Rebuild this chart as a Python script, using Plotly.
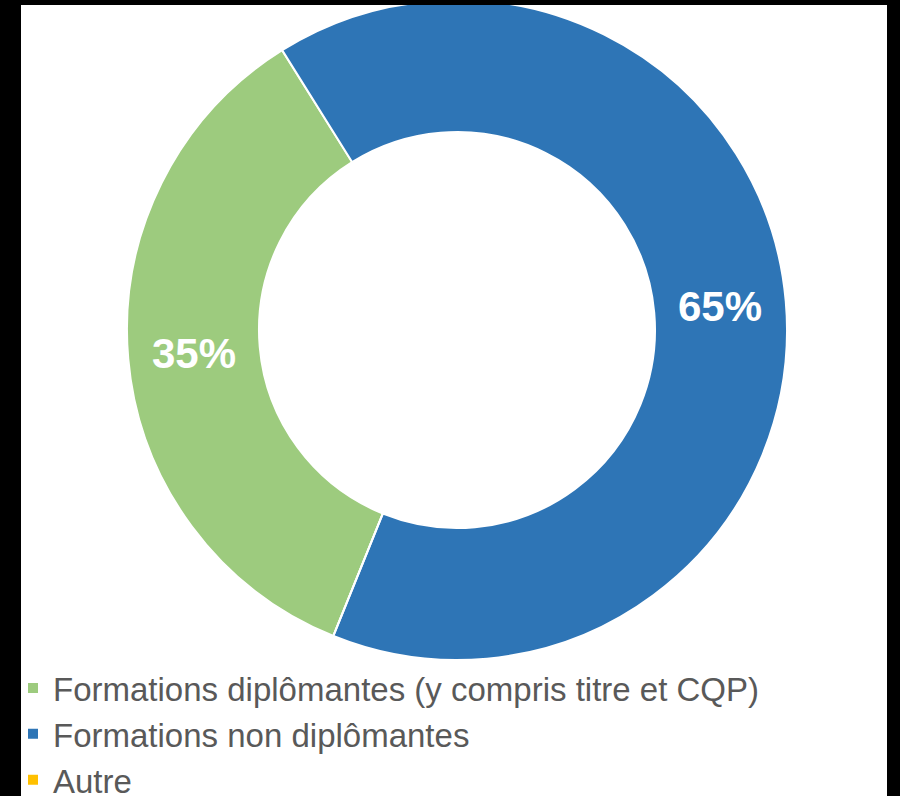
import plotly.graph_objects as go

labels = ["Formations diplômantes (y compris titre et CQP)", "Formations non diplômantes", "Autre"]
values = [35, 65, 0]
colors = ["#9DCB7E", "#2E75B6", "#FFC000"]

W, H = 900, 796

fig = go.Figure()
fig.add_trace(go.Pie(
    labels=labels,
    values=values,
    hole=0.6,
    sort=False,
    direction="clockwise",
    rotation=202,
    marker=dict(colors=colors, line=dict(color="#FFFFFF", width=2)),
    textinfo="percent",
    texttemplate="%{percent:.0%}",
    textposition="inside",
    insidetextorientation="horizontal",
    textfont=dict(family="Liberation Sans, Arial, sans-serif", size=42, color="#FFFFFF", weight="bold"),
    # the legend (container-referenced) pushes the bottom margin, so the
    # pie fills the remaining plot area vertically
    domain=dict(x=[(457 - 330) / W, (457 + 330) / W], y=[0, 1]),
    hoverinfo="label+percent",
))

black = dict(type="rect", xref="paper", yref="paper", fillcolor="#000000",
             line=dict(width=0), layer="above")
fig.update_layout(
    width=W,
    height=H,
    margin=dict(l=0, r=0, t=0, b=0),
    paper_bgcolor="#FFFFFF",
    shapes=[
        dict(black, x0=0, x1=21 / W, y0=-0.6, y1=1),
        dict(black, x0=887 / W, x1=1, y0=-0.6, y1=1),
        dict(black, x0=0, x1=1, y0=1 - 6 / H, y1=1),
    ],
    showlegend=True,
    legend=dict(
        x=13 / W, xanchor="left", xref="paper",
        y=1 - 660 / H, yanchor="top", yref="container",
        font=dict(family="Liberation Sans, Arial, sans-serif", size=33, color="#595959"),
        bgcolor="rgba(0,0,0,0)",
        tracegroupgap=0,
    ),
)

fig.write_html("out.html")
